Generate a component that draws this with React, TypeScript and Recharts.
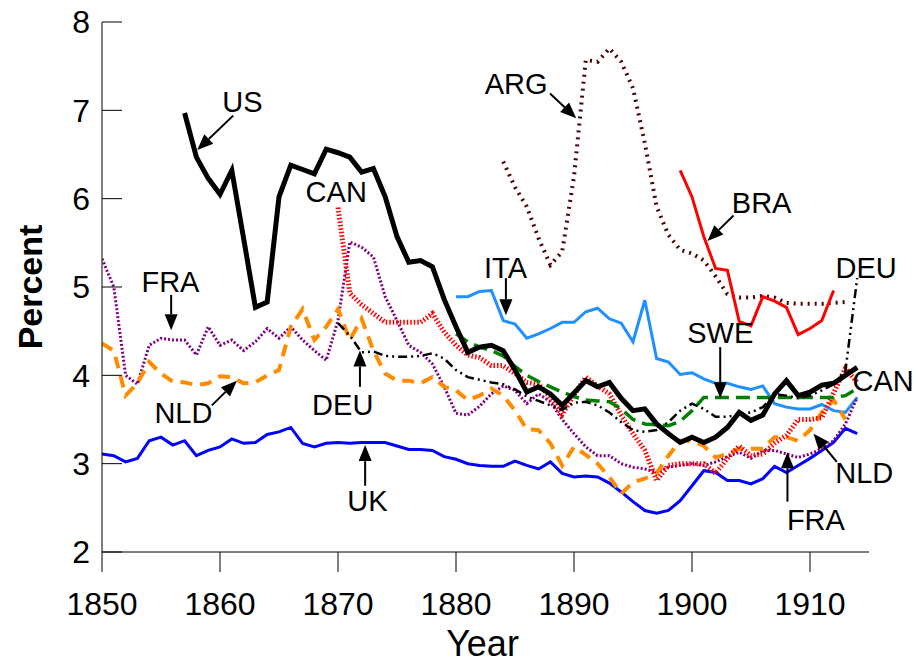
import React from 'react';
import { LineChart, Line, XAxis, YAxis, ReferenceLine, ReferenceDot, Label } from 'recharts';

const FONT = '"Liberation Sans", Arial, sans-serif';

// x axis: one row per year
const years = Array.from({ length: 65 }, (_, i) => 1850 + i);
const xTicks = [1850, 1860, 1870, 1880, 1890, 1900, 1910];
const yTicks = [2, 3, 4, 5, 6, 7, 8];

// series values (percent), each from its first year
const ukStart = 1850;
const uk = [
  3.11, 3.09, 3.02, 3.06, 3.26, 3.3, 3.21, 3.26, 3.09, 3.15, 3.19, 3.28, 3.23, 3.24, 3.33, 3.36,
  3.41, 3.23, 3.19, 3.23, 3.24, 3.23, 3.24, 3.24, 3.24, 3.2, 3.16, 3.16, 3.15, 3.08, 3.05, 3.0,
  2.98, 2.97, 2.97, 3.03, 2.98, 2.94, 3.02, 2.89, 2.85, 2.86, 2.85, 2.78, 2.68, 2.57, 2.47, 2.44,
  2.47, 2.58, 2.75, 2.92, 2.9, 2.81, 2.81, 2.77, 2.83, 2.97, 2.9, 2.98, 3.06, 3.15, 3.24, 3.4, 3.34
];

const usStart = 1857;
const us = [
  6.97, 6.47, 6.23, 6.05, 6.32, 5.55, 4.77, 4.83, 6.02, 6.38, 6.33, 6.28, 6.56, 6.52, 6.47, 6.3,
  6.34, 6.02, 5.57, 5.28, 5.3, 5.23, 4.86, 4.55, 4.26, 4.32, 4.34, 4.28, 4.06, 3.81, 3.87, 3.79,
  3.66, 3.8, 3.94, 3.87, 3.92, 3.74, 3.6, 3.62, 3.45, 3.34, 3.24, 3.3, 3.24, 3.3, 3.41, 3.58,
  3.49, 3.55, 3.79, 3.94, 3.77, 3.81, 3.89, 3.91, 4.0, 4.09
];

const itaStart = 1880;
const ita = [
  4.89, 4.89, 4.95, 4.96, 4.62, 4.58, 4.42, 4.47, 4.53, 4.6, 4.6, 4.72, 4.76, 4.64, 4.59, 4.38,
  4.85, 4.19, 4.15, 4.01, 4.03, 3.96, 3.91, 3.91, 3.87, 3.84, 3.88, 3.68, 3.64, 3.62, 3.62, 3.67,
  3.6, 3.58, 3.75
];

const argStart = 1884;
const arg = [
  6.42, 6.13, 5.91, 5.55, 5.25, 5.4, 6.25, 7.57, 7.55, 7.7, 7.55, 7.25, 6.63, 5.91, 5.59, 5.42,
  5.38, 5.3, 5.12, 4.92, 4.88, 4.88, 4.9, 4.88, 4.82, 4.81, 4.81, 4.81, 4.82, 4.83
];

const braStart = 1899;
const bra = [6.32, 6.02, 5.57, 5.21, 5.19, 4.61, 4.56, 4.89, 4.84, 4.77, 4.46, 4.53, 4.62, 4.96];

const canStart = 1870;
const can = [
  5.9, 4.93, 4.8, 4.7, 4.6, 4.6, 4.6, 4.6, 4.7, 4.49, 4.34, 4.23, 4.2, 4.11, 4.11, 4.02,
  3.92, 3.9, 3.75, 3.56, 3.78, 3.98, 3.88, 3.79, 3.55, 3.34, 3.15, 2.81, 2.98, 3.0, 3.0, 3.0,
  2.89, 3.06, 3.2, 3.09, 3.11, 3.23, 3.32, 3.5, 3.5, 3.52, 3.8, 4.08, 3.92
];

const fraStart = 1850;
const fra = [
  5.32, 5.0, 4.0, 3.9, 4.34, 4.42, 4.4, 4.4, 4.23, 4.55, 4.34, 4.4, 4.28, 4.38, 4.53, 4.42,
  4.55, 4.4, 4.28, 4.17, 4.62, 5.51, 5.45, 5.34, 4.89, 4.62, 4.34, 4.26, 4.13, 3.87, 3.57, 3.55,
  3.65, 3.79, 3.88, 3.83, 3.68, 3.79, 3.7, 3.5, 3.34, 3.19, 3.09, 3.09, 3.0, 2.96, 2.94, 2.9,
  2.96, 2.98, 3.0, 2.98, 3.02, 3.08, 3.13, 3.06, 3.15, 3.15, 3.11, 3.07, 3.11, 3.17, 3.26, 3.45, 3.75
];

const nldStart = 1850;
const nld = [
  4.36, 4.28, 3.77, 3.91, 4.15, 4.02, 3.93, 3.92, 3.89, 3.91, 3.99, 3.98, 3.91, 3.92, 4.0, 4.06,
  4.55, 4.75, 4.4, 4.55, 4.75, 4.4, 4.64, 4.28, 4.02, 3.94, 3.94, 3.91, 3.98, 3.87, 3.83, 3.72,
  3.77, 3.85, 3.77, 3.6, 3.39, 3.38, 3.23, 2.98, 3.19, 3.1, 3.0, 2.85, 2.66, 2.79, 2.83, 2.89,
  3.09, 3.26, 3.26, 3.2, 3.07, 3.11, 3.17, 3.17, 3.17, 3.3, 3.3, 3.26, 3.38, 3.58, 3.72, 3.5
];

const deuStart = 1870;
const deu = [
  4.59, 4.45, 4.26, 4.27, 4.22, 4.21, 4.21, 4.22, 4.25, 4.19, 4.06, 3.98, 3.95, 3.92, 3.9, 3.84,
  3.76, 3.71, 3.66, 3.61, 3.69, 3.7, 3.66, 3.58, 3.47, 3.38, 3.36, 3.38, 3.47, 3.6, 3.68, 3.62,
  3.53, 3.53, 3.56, 3.58, 3.64, 3.79, 3.77, 3.74, 3.77, 3.83, 3.9, 4.05, 5.1
];

const sweStart = 1880;
const swe = [
  4.47, 4.38, 4.32, 4.28, 4.22, 4.1, 4.0, 3.93, 3.87, 3.81, 3.76, 3.72, 3.71, 3.7, 3.62, 3.5,
  3.45, 3.44, 3.43, 3.48, 3.6, 3.75, 3.75, 3.75, 3.75, 3.75, 3.75, 3.75, 3.75, 3.75, 3.75, 3.75,
  3.75, 3.77, 3.85
];

const seriesList = [
  { key: 'ARG', start: argStart, values: arg },
  { key: 'BRA', start: braStart, values: bra },
  { key: 'ITA', start: itaStart, values: ita },
  { key: 'UK', start: ukStart, values: uk },
  { key: 'FRA', start: fraStart, values: fra },
  { key: 'NLD', start: nldStart, values: nld },
  { key: 'CAN', start: canStart, values: can },
  { key: 'SWE', start: sweStart, values: swe },
  { key: 'DEU', start: deuStart, values: deu },
  { key: 'US', start: usStart, values: us }
];

const lineStyle: Record<string, { color: string; width: number; dash?: string }> = {
  ARG: { color: '#4d0000', width: 4, dash: '2 5' },
  BRA: { color: '#ff0000', width: 3 },
  ITA: { color: '#1e90ff', width: 3 },
  UK: { color: '#0000ff', width: 3 },
  FRA: { color: '#800080', width: 3, dash: '2 2' },
  NLD: { color: '#ff8c00', width: 4, dash: '12 8' },
  CAN: { color: '#ff0000', width: 5, dash: '1.5 2' },
  SWE: { color: '#008000', width: 3.5, dash: '14 7' },
  DEU: { color: '#000000', width: 2.5, dash: '9 4 2 4 2 4' },
  US: { color: '#000000', width: 5 }
};

// annotations in data units
const labels = [
  { text: 'US', x: 1861.9, y: 7.09 },
  { text: 'CAN', x: 1869.85, y: 6.08 },
  { text: 'FRA', x: 1855.8, y: 5.06 },
  { text: 'NLD', x: 1856.9, y: 3.57 },
  { text: 'DEU', x: 1870.4, y: 3.66 },
  { text: 'UK', x: 1872.5, y: 2.58 },
  { text: 'ITA', x: 1884.2, y: 5.21 },
  { text: 'ARG', x: 1885.1, y: 7.3 },
  { text: 'BRA', x: 1905.9, y: 5.95 },
  { text: 'SWE', x: 1902.4, y: 4.48 },
  { text: 'DEU', x: 1914.76, y: 5.21 },
  { text: 'CAN', x: 1916.2, y: 3.94 },
  { text: 'NLD', x: 1914.6, y: 2.89 },
  { text: 'FRA', x: 1910.5, y: 2.36 }
];

const arrows = [
  { from: [1861.12, 6.94], to: [1858.07, 6.55] },
  { from: [1887.97, 7.19], to: [1890.19, 6.91] },
  { from: [1903.52, 5.81], to: [1901.31, 5.52] },
  { from: [1855.86, 4.91], to: [1855.86, 4.51] },
  { from: [1859.31, 3.66], to: [1861.43, 3.94] },
  { from: [1871.86, 3.87], to: [1871.86, 4.28] },
  { from: [1872.3, 2.75], to: [1872.3, 3.21] },
  { from: [1884.23, 5.1], to: [1884.23, 4.68] },
  { from: [1902.39, 4.32], to: [1902.39, 3.74] },
  { from: [1912.27, 3.02], to: [1910.3, 3.34] },
  { from: [1908.09, 2.57], to: [1908.09, 3.13] }
];

const table = years.map((year) => {
  const row: Record<string, number | null> = { year };
  seriesList.forEach((s) => {
    const i = year - s.start;
    row[s.key] = i >= 0 && i < s.values.length ? s.values[i] : null;
  });
  return row;
});

function Arrow(props: any) {
  const { x1, y1, x2, y2 } = props;
  const dx = x2 - x1;
  const dy = y2 - y1;
  const len = Math.sqrt(dx * dx + dy * dy) || 1;
  const ux = dx / len;
  const uy = dy / len;
  const head = 16;
  const half = 6.5;
  const bx = x2 - ux * head;
  const by = y2 - uy * head;
  const pts = `${x2},${y2} ${bx - uy * half},${by + ux * half} ${bx + uy * half},${by - ux * half}`;
  return (
    <g>
      <line x1={x1} y1={y1} x2={bx} y2={by} stroke="#000" strokeWidth={2} />
      <polygon points={pts} fill="#000" />
    </g>
  );
}

function YTick(props: any) {
  const { x, y, payload } = props;
  return (
    <g>
      <line x1={x + 12} y1={y} x2={x + 32} y2={y} stroke="#000" strokeWidth={1} />
      <text x={x} y={y} dy="0.355em" textAnchor="end" fontSize={32} fontFamily={FONT} fill="#000">
        {payload.value}
      </text>
    </g>
  );
}

export default function App() {
  return (
    <div style={{ position: 'absolute', left: 0, top: 0, width: 920, height: 665, background: '#fff' }}>
      <LineChart width={920} height={665} data={table} margin={{ top: 22, right: 51, bottom: 0, left: 0 }}>
        <XAxis
          dataKey="year"
          type="number"
          domain={[1850, 1915]}
          ticks={xTicks}
          allowDataOverflow
          height={113}
          tickSize={20}
          tickMargin={20}
          stroke="#000"
          tick={{ fill: '#000', fontSize: 32, fontFamily: FONT }}
        >
          <Label
            content={({ viewBox }: any) => (
              <text
                x={viewBox.x + viewBox.width / 2 - 3}
                y={viewBox.y + 91}
                textAnchor="middle"
                dominantBaseline="central"
                fontSize={36}
                fontFamily={FONT}
                fill="#000"
              >
                Year
              </text>
            )}
          />
        </XAxis>
        <YAxis
          type="number"
          domain={[2, 8]}
          ticks={yTicks}
          allowDataOverflow
          width={102}
          tickSize={0}
          tickMargin={12}
          tickLine={false}
          stroke="#000"
          tick={YTick}
        >
          <Label
            content={({ viewBox }: any) => {
              const cx = viewBox.x + 30;
              const cy = viewBox.y + viewBox.height / 2;
              return (
                <text
                  x={cx}
                  y={cy}
                  transform={`rotate(-90 ${cx} ${cy})`}
                  textAnchor="middle"
                  dominantBaseline="central"
                  fontSize={34}
                  fontWeight="bold"
                  fontFamily={FONT}
                  fill="#000"
                >
                  Percent
                </text>
              );
            }}
          />
        </YAxis>
        {seriesList.map((s) => (
          <Line
            key={s.key}
            dataKey={s.key}
            type="linear"
            stroke={lineStyle[s.key].color}
            strokeWidth={lineStyle[s.key].width}
            strokeDasharray={lineStyle[s.key].dash}
            dot={false}
            activeDot={false}
            isAnimationActive={false}
          />
        ))}
        {arrows.map((a, i) => (
          <ReferenceLine
            key={`arrow-${i}`}
            segment={[
              { x: a.from[0], y: a.from[1] },
              { x: a.to[0], y: a.to[1] }
            ]}
            ifOverflow="visible"
            shape={Arrow}
          />
        ))}
        {labels.map((l, i) => (
          <ReferenceDot
            key={`label-${i}`}
            x={l.x}
            y={l.y}
            ifOverflow="visible"
            shape={(p: any) => (
              <text
                x={p.cx}
                y={p.cy}
                textAnchor="middle"
                dominantBaseline="central"
                fontSize={29}
                fontFamily={FONT}
                fill="#000"
              >
                {l.text}
              </text>
            )}
          />
        ))}
      </LineChart>
    </div>
  );
}
